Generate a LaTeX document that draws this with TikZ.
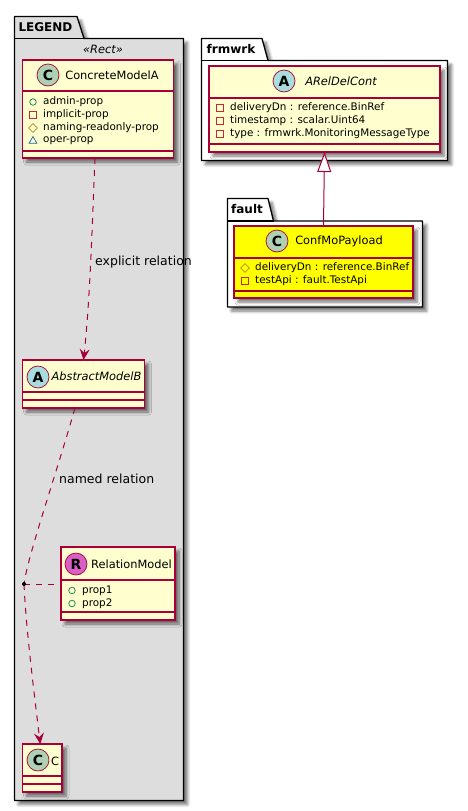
\documentclass[tikz,border=0pt]{standalone}
\usepackage{fontspec}
\setmainfont{DejaVu Sans}
\usepackage{tikz}
\usetikzlibrary{shapes,arrows.meta,positioning,calc,shadows.blur}
\definecolor{umlborder}{HTML}{A80036}
\definecolor{umlfill}{HTML}{FEFECE}
\definecolor{legendgray}{HTML}{DDDDDD}
\definecolor{payloadyellow}{HTML}{FFFF00}
\definecolor{spotC}{HTML}{ADD1B2}
\definecolor{spotA}{HTML}{A9DCDF}
\definecolor{spotR}{HTML}{DA5FC5}
\definecolor{iconpublic}{HTML}{038048}
\definecolor{iconprivate}{HTML}{C82930}
\definecolor{iconprotected}{HTML}{B38D22}
\definecolor{iconpackage}{HTML}{1963A0}
\tikzset{
  softshadow/.style={blur shadow={shadow xshift=4pt,shadow yshift=-4pt,shadow blur radius=3pt,shadow blur steps=6,shadow opacity=55}},
  packagebox/.style={draw=black,line width=1.3pt,line join=round,softshadow},
  classbox/.style={rectangle,draw=umlborder,line width=1.2pt,fill=umlfill,inner sep=0pt,outer sep=0pt,anchor=north west,softshadow},
  divider/.style={draw=umlborder,line width=1.2pt},
  spot/.style={circle,draw=umlborder,line width=.7pt,minimum size=22pt,inner sep=0pt,font=\bfseries\fontsize{14}{14}\selectfont},
  classtitle/.style={font=\fontsize{11.4}{13}\selectfont,inner sep=0pt},
  abstracttitle/.style={font=\itshape\fontsize{11.4}{13}\selectfont,inner sep=0pt},
  proptext/.style={anchor=west,font=\fontsize{10.4}{12}\selectfont,inner sep=0pt},
  pkgtitle/.style={font=\bfseries\fontsize{12}{14}\selectfont,inner sep=0pt},
  reltext/.style={anchor=west,font=\fontsize{12.5}{14}\selectfont,inner sep=0pt},
  icopublic/.style={circle,draw=iconpublic,line width=.7pt,minimum size=6.5pt,inner sep=0pt},
  icoprivate/.style={rectangle,draw=iconprivate,line width=.7pt,minimum size=6.5pt,inner sep=0pt},
  icoprotected/.style={diamond,draw=iconprotected,line width=.7pt,minimum size=9pt,inner sep=0pt},
  icopackage/.style={regular polygon,regular polygon sides=3,draw=iconpackage,line width=.7pt,minimum size=9pt,inner sep=0pt},
  relation/.style={draw=umlborder,line width=1pt,dash pattern=on 6pt off 6pt},
  dependency/.style={relation,-{Stealth[length=11pt,width=10pt,inset=4pt,fill=umlborder]}},
  extends/.style={draw=umlborder,line width=1pt,-{Triangle[open,length=20pt,width=14pt,fill=white]}},
}
% one attribute row: icon at x, text at x+10
\newcommand{\classprop}[5]{%
  \node[#2] (#1icon) at (#3,#4) {};
  \node[proptext] (#1) at (#3+10,#4) {#5};
}
\begin{document}
\begin{tikzpicture}[x=1pt,y=-1pt]
\useasboundingbox (0,0) rectangle (468,811);

% packages
\path[packagebox,fill=legendgray] (14.5,38.5) -- (14.5,16.5) -- (77,16.5) -- (84,38.5) -- (183.5,38.5) -- (183.5,800.5) -- (14.5,800.5) -- cycle;
\draw[black,line width=1.3pt] (14.5,38.5) -- (84,38.5);
\path[packagebox,fill=white] (201.5,60.5) -- (201.5,38.5) -- (262,38.5) -- (268,60.5) -- (447.5,60.5) -- (447.5,160.5) -- (201.5,160.5) -- cycle;
\draw[black,line width=1.3pt] (201.5,60.5) -- (268,60.5);
\path[packagebox,fill=white] (227.5,221) -- (227.5,198.5) -- (268,198.5) -- (273.5,221) -- (422.5,221) -- (422.5,307) -- (227.5,307) -- cycle;
\draw[black,line width=1.3pt] (227.5,221) -- (273.5,221);
\node[pkgtitle] (legendtitle) at (45.5,27) {LEGEND};
\node[pkgtitle] (frmwrktitle) at (231,49) {frmwrk};
\node[pkgtitle] (faulttitle) at (247,209) {fault};
\node[font=\itshape\fontsize{11.4}{13}\selectfont,inner sep=0pt] (recttitle) at (103,49) {«Rect»};

% ConcreteModelA
\node[classbox,minimum width=151pt,minimum height=98pt] (modelA) at (22.5,60) {};
\draw[divider] (22.5,91) -- (173.5,91) (22.5,151) -- (173.5,151);
\node[spot,fill=spotC] (modelAspot) at (48,75) {C};
\node[classtitle] (modelAtitle) at (112,75.5) {ConcreteModelA};
\classprop{adminprop}{icopublic}{33}{102}{admin-prop}
\classprop{implicitprop}{icoprivate}{33}{115}{implicit-prop}
\classprop{namingprop}{icoprotected}{33}{128}{naming-readonly-prop}
\classprop{operprop}{icopackage}{33}{141}{oper-prop}

% AbstractModelB
\node[classbox,minimum width=122pt,minimum height=48pt] (modelB) at (22.5,360) {};
\draw[divider] (22.5,392) -- (144.5,392) (22.5,400) -- (144.5,400);
\node[spot,fill=spotA] (modelBspot) at (38,377) {A};
\node[abstracttitle] (modelBtitle) at (96.5,376.5) {AbstractModelB};

% RelationModel
\node[classbox,minimum width=114pt,minimum height=73pt] (relmodel) at (61,547) {};
\draw[divider] (61,580) -- (175,580) (61,612) -- (175,612);
\node[spot,fill=spotR] (relmodelspot) at (76,564) {R};
\node[classtitle] (relmodeltitle) at (131.5,564) {RelationModel};
\classprop{propone}{icopublic}{72}{590.5}{prop1}
\classprop{proptwo}{icopublic}{72}{603.5}{prop2}

% C
\node[classbox,minimum width=39.5pt,minimum height=48pt] (modelC) at (22.5,744) {};
\draw[divider] (22.5,776) -- (62,776) (22.5,784) -- (62,784);
\node[spot,fill=spotC] (modelCspot) at (38,760) {C};
\node[classtitle] (modelCtitle) at (55,761) {C};

% ARelDelCont
\node[classbox,minimum width=231pt,minimum height=86pt] (relcont) at (209,66) {};
\draw[divider] (209,98) -- (440,98) (209,144) -- (440,144);
\node[spot,fill=spotA] (relcontspot) at (284,81) {A};
\node[abstracttitle] (relconttitle) at (341,81.5) {ARelDelCont};
\classprop{contdn}{icoprivate}{220}{108}{deliveryDn : reference.BinRef}
\classprop{contstamp}{icoprivate}{220}{121}{timestamp : scalar.Uint64}
\classprop{conttype}{icoprivate}{220}{134}{type : frmwrk.MonitoringMessageType}

% ConfMoPayload
\node[classbox,fill=payloadyellow,minimum width=179pt,minimum height=72pt] (payload) at (234,226) {};
\draw[divider] (234,258) -- (413,258) (234,291) -- (413,291);
\node[spot,fill=spotC] (payloadspot) at (277,241) {C};
\node[classtitle] (payloadtitle) at (339,241.5) {ConfMoPayload};
\classprop{payloaddn}{icoprotected}{245}{268}{deliveryDn : reference.BinRef}
\classprop{payloadapi}{icoprivate}{245}{281}{testApi : fault.TestApi}

% relations
\coordinate (reljoin) at (24,584);
\draw[extends] (payload.north) -- (relcont.south);
\draw[dependency] ([xshift=-3pt]modelA.south) .. controls (92,230) and (90,300) .. (modelB.north);
\node[reltext] (explicitlabel) at (95,262) {explicit relation};
\draw[relation] ([xshift=-8.5pt]modelB.south) .. controls (55,478) and (28,555) .. (reljoin);
\node[reltext] (namedlabel) at (59,478.5) {named relation};
\draw[relation] (reljoin) -- (relmodel.west |- reljoin);
\draw[dependency] (reljoin) .. controls (26,630) and (35,700) .. ([xshift=-2pt]modelC.north);
\fill (reljoin) circle (2pt);
\end{tikzpicture}
\end{document}
